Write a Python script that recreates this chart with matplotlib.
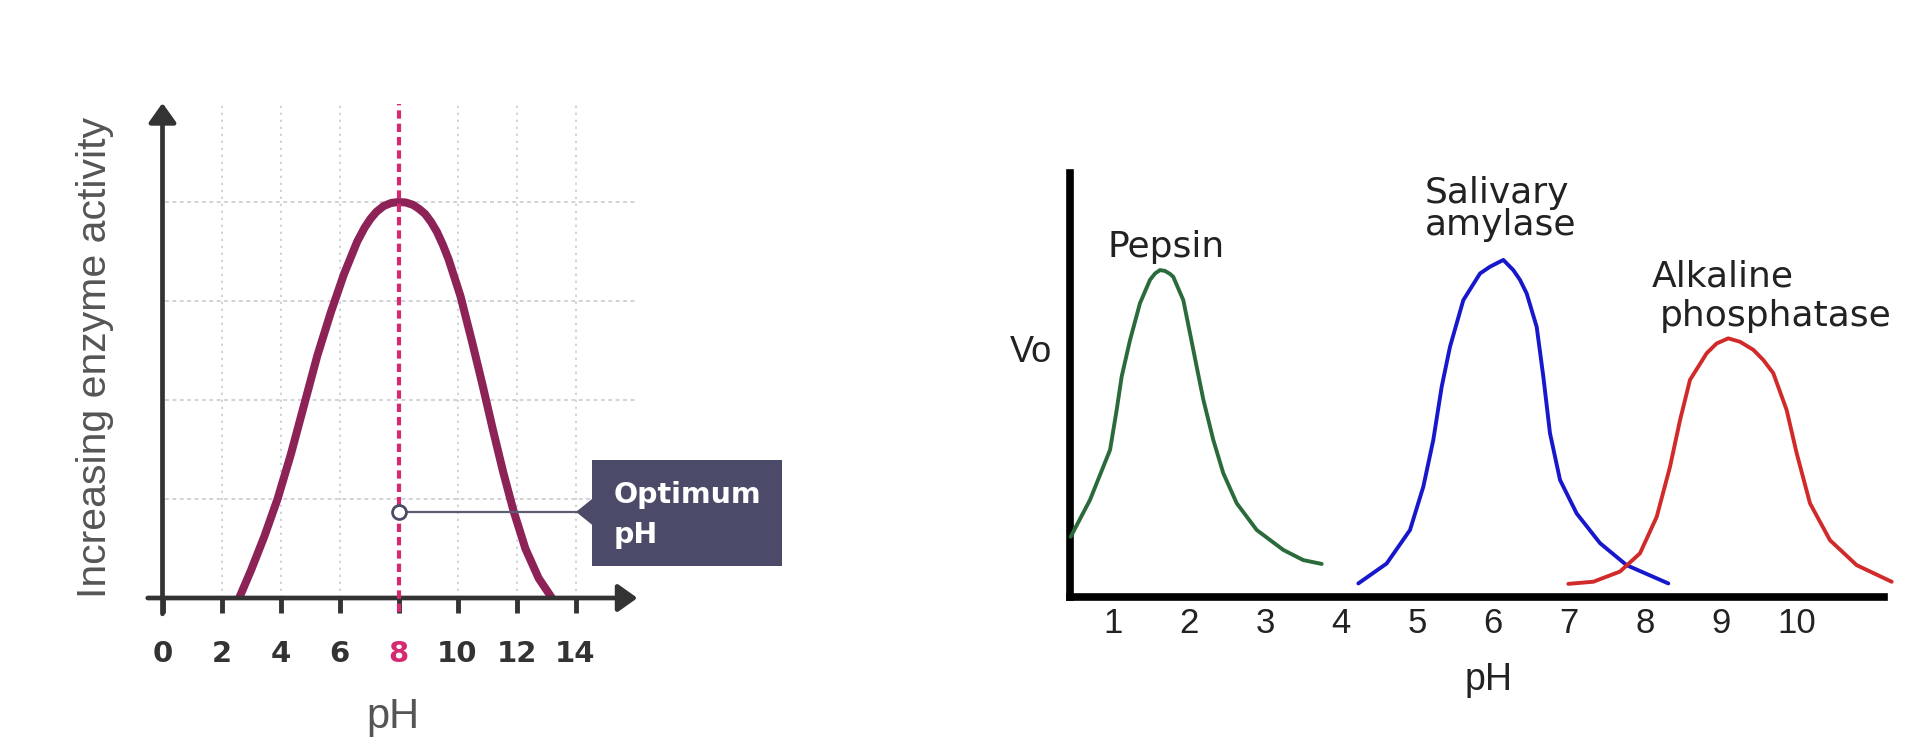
import matplotlib
matplotlib.use("Agg")
import matplotlib.pyplot as plt
from matplotlib.patches import Rectangle, Polygon

plt.rcParams['font.family'] = ['DejaVu Sans']

# ---------------- Left chart data ----------------
left_ph = [2.6, 3.0, 3.45, 3.9, 4.35, 4.8, 5.25, 5.7, 6.15, 6.6, 6.85, 7.05, 7.25, 7.5, 7.75, 8.0,
           8.25, 8.5, 8.7, 8.9, 9.1, 9.3, 9.5, 9.7, 10.1, 10.5, 10.85, 11.2, 11.55, 11.9, 12.3,
           12.75, 13.2]
left_activity = [0.0, 0.28, 0.62, 1.0, 1.45, 1.95, 2.45, 2.88, 3.27, 3.60, 3.74, 3.83, 3.90,
                 3.96, 3.99, 4.0, 3.995, 3.97, 3.93, 3.88, 3.80, 3.70, 3.57, 3.42, 3.05, 2.58,
                 2.15, 1.70, 1.27, 0.88, 0.50, 0.20, 0.0]
left_ticks = [0, 2, 4, 6, 8, 10, 12, 14]
left_grid_y = [1, 2, 3, 4]
optimum_ph = 8
optimum_marker_y = 0.87
left_xlabel = "pH"
left_ylabel = "Increasing enzyme activity"
callout_lines = ["Optimum", "pH"]

# ---------------- Right chart data ----------------
pepsin_ph = [0.443, 0.697, 0.961, 1.048, 1.114, 1.224, 1.355, 1.487, 1.553, 1.618, 1.684,
             1.75, 1.793, 1.925, 2.013, 2.101, 2.189, 2.320, 2.451, 2.628, 2.891, 3.241,
             3.504, 3.746]
pepsin_vo = [14.2, 22.9, 34.7, 44.1, 52.0, 60.6, 69.3, 74.8, 76.3, 77.1, 76.9,
             76.2, 75.5, 70.0, 62.2, 54.3, 46.5, 37.0, 29.2, 22.1, 15.8, 11.1,
             8.7, 7.8]
amylase_ph = [4.228, 4.601, 4.908, 5.083, 5.214, 5.325, 5.434, 5.609, 5.829, 5.961, 6.136,
              6.267, 6.355, 6.443, 6.575, 6.662, 6.750, 6.882, 7.101, 7.408, 7.759, 8.307]
amylase_vo = [3.2, 7.9, 15.8, 26.0, 37.0, 49.6, 59.0, 70.0, 76.3, 77.9, 79.5,
              77.1, 74.8, 71.6, 63.7, 52.0, 38.6, 27.6, 19.7, 12.7, 7.5, 3.2]
alkaline_ph = [6.991, 7.320, 7.671, 7.934, 8.154, 8.329, 8.461, 8.592, 8.812, 8.943, 9.096,
               9.25, 9.425, 9.557, 9.688, 9.864, 9.996, 10.171, 10.434, 10.786, 11.246]
alkaline_vo = [3.1, 3.6, 6.0, 10.3, 18.9, 30.7, 41.7, 51.2, 57.5, 59.8, 61.0,
               60.2, 58.3, 55.9, 52.8, 44.1, 33.9, 22.1, 13.4, 7.5, 3.6]
right_ticks = [1, 2, 3, 4, 5, 6, 7, 8, 9, 10]
right_xlabel = "pH"
right_ylabel = "Vo"
enzyme_labels = [["Pepsin"], ["Salivary", "amylase"], ["Alkaline", "phosphatase"]]

# ---------------- Figure ----------------
W, H = 1922, 750
fig = plt.figure(figsize=(W / 100, H / 100), dpi=100)
fig.patch.set_facecolor("white")

# ===== Left panel =====
axL = fig.add_axes([133 / W, (H - 598) / H, 531 / W, (598 - 83.2) / H])
axL.set_xlim(-1, 17)
axL.set_ylim(0, 5.2)
for s in axL.spines.values():
    s.set_visible(False)

grid_col = "#d2d2d8"
axL.vlines([t for t in left_ticks if t not in (0, optimum_ph)], 0, 4.98,
           colors=grid_col, linestyles=(0, (1.2, 2.4)), lw=1.4, zorder=1)
axL.hlines(left_grid_y, 0.1, 16.0, colors=grid_col, linestyles=(0, (2.0, 1.8)), lw=1.4, zorder=1)

axL.plot(left_ph, left_activity, color="#8c2256", lw=5.8, solid_capstyle="round",
         solid_joinstyle="round", zorder=3)

magenta = "#d42a72"
axL.plot([optimum_ph, optimum_ph], [-0.14, 4.99], color=magenta, lw=3.0,
         dashes=(2.0, 1.2), clip_on=False, zorder=4)

axis_col = "#333333"
arrow_kw = dict(arrowstyle="-|>,head_length=0.45,head_width=0.32", color=axis_col,
                lw=3.4, mutation_scale=26, shrinkA=0, shrinkB=0)
axL.annotate("", xy=(16.1, 0), xytext=(-0.5, 0), arrowprops=arrow_kw, annotation_clip=False)
axL.annotate("", xy=(0, 5.0), xytext=(0, -0.16), arrowprops=arrow_kw, annotation_clip=False)

axL.set_yticks([])
axL.set_xticks(left_ticks)
axL.set_xticklabels([str(t) for t in left_ticks])
axL.tick_params(axis="x", direction="out", length=11, width=3.5, color=axis_col,
                pad=19, labelsize=21)
for t, lbl, tk in zip(left_ticks, axL.get_xticklabels(), axL.xaxis.get_major_ticks()):
    lbl.set_fontweight("bold")
    lbl.set_color(magenta if t == optimum_ph else axis_col)
    if t == optimum_ph:
        tk.tick1line.set_color(magenta)

# call-out
box_col = "#4b4b69"
axL.plot([optimum_ph, 14.05], [optimum_marker_y, optimum_marker_y], color="#5c5c72",
         lw=1.6, clip_on=False, zorder=5)
axL.plot([optimum_ph], [optimum_marker_y], "o", ms=10, mfc="white", mec="#4b4b66",
         mew=2, zorder=6, clip_on=False)
axL.add_patch(Rectangle((14.55, 0.32), 6.44, 1.07, fc=box_col, ec="none",
                        clip_on=False, zorder=5))
axL.add_patch(Polygon([(14.02, optimum_marker_y), (14.56, 1.0), (14.56, 0.74)],
                      closed=True, fc=box_col, ec="none", clip_on=False, zorder=5))
axL.text(15.28, 0.957, callout_lines[0], color="white", fontsize=20.5, fontweight="bold",
         va="baseline", ha="left", zorder=7, clip_on=False)
axL.text(15.28, 0.556, callout_lines[1], color="white", fontsize=20.5, fontweight="bold",
         va="baseline", ha="left", zorder=7, clip_on=False)

fig.text(393 / W, 1 - 728 / H, left_xlabel, ha="center", va="baseline", fontsize=30,
         family="Liberation Sans", color="#555555")
fig.text(95 / W, 1 - 357 / H, left_ylabel, ha="center", va="center", rotation=90,
         fontsize=29.5, family="Liberation Sans", color="#555555")

# ===== Right panel =====
axR = fig.add_axes([1070 / W, (H - 597) / H, 814 / W, (597 - 173) / H])
axR.set_xlim(0.434, 11.145)
axR.set_ylim(0, 100)
axR.spines["top"].set_visible(False)
axR.spines["right"].set_visible(False)
for side in ("left", "bottom"):
    axR.spines[side].set_linewidth(5.5)
    axR.spines[side].set_color("black")
    axR.spines[side].set_capstyle("projecting")

line_kw = dict(lw=2.8, clip_on=False, zorder=3, solid_joinstyle="round", solid_capstyle="round")
axR.plot(pepsin_ph, pepsin_vo, color="#2b6a3a", **line_kw)
axR.plot(amylase_ph, amylase_vo, color="#1717cc", **line_kw)
axR.plot(alkaline_ph, alkaline_vo, color="#d12a2a", **line_kw)

axR.set_yticks([])
axR.set_xticks(right_ticks)
axR.set_xticklabels([str(t) for t in right_ticks])
axR.tick_params(axis="x", length=0, pad=7, labelsize=25, labelcolor="#222222")
for lbl in axR.get_xticklabels():
    lbl.set_family("Liberation Sans")

txt_kw = dict(fontsize=26, color="#222222", ha="left", va="baseline", clip_on=False)
axR.text(0.934, 80.2, enzyme_labels[0][0], **txt_kw)
axR.text(5.105, 92.9, enzyme_labels[1][0], **txt_kw)
axR.text(5.105, 85.4, enzyme_labels[1][1], **txt_kw)
axR.text(8.088, 73.2, enzyme_labels[2][0], **txt_kw)
axR.text(8.197, 63.8, enzyme_labels[2][1], **txt_kw)

fig.text(1031 / W, 1 - 361.7 / H, right_ylabel, ha="center", va="baseline", fontsize=26,
         family="Liberation Sans", color="#222222")
fig.text(1489 / W, 1 - 690 / H, right_xlabel, ha="center", va="baseline", fontsize=27,
         family="Liberation Sans", color="#222222")

fig.savefig("out.png", dpi=100, facecolor="white")
